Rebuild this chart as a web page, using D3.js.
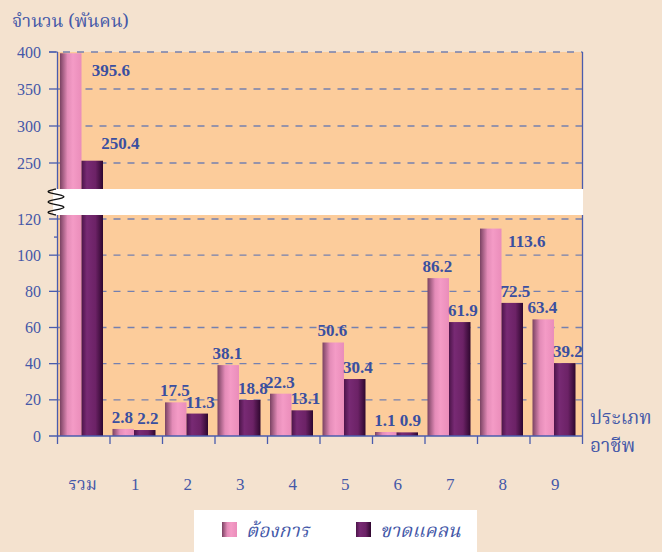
<!DOCTYPE html>
<html>
<head>
<meta charset="utf-8">
<script src="https://cdn.jsdelivr.net/npm/d3@7"></script>
<style>
  html, body { margin: 0; padding: 0; background: #f4e2cf; }
  svg { display: block; }
</style>
</head>
<body>
<div id="chart"></div>
<script>
// data
var categories = ["รวม", "1", "2", "3", "4", "5", "6", "7", "8", "9"];
var wanted   = [395.6, 2.8, 17.5, 38.1, 22.3, 50.6, 1.1, 86.2, 113.6, 63.4];
var shortage = [250.4, 2.2, 11.3, 18.8, 13.1, 30.4, 0.9, 61.9, 72.5, 39.2];
var seriesNames = ["ต้องการ", "ขาดแคลน"];
var lowTicks = [0, 20, 40, 60, 80, 100, 120];
var highTicks = [250, 300, 350, 400];

var width = 662, height = 552;
var blue = "#4458a8", labelBlue = "#3a4fa0", gridCol = "#7480b0";
var serif = "'Liberation Serif', 'Times New Roman', serif";
var thai = "'Noto Serif Thai', 'Noto Sans Thai', 'Loma', 'Garuda', 'DejaVu Sans', sans-serif";

var svg = d3.select("#chart").append("svg")
    .attr("width", width).attr("height", height);

var defs = svg.append("defs");
function grad(id, stops) {
    var g = defs.append("linearGradient").attr("id", id)
        .attr("x1", "0%").attr("x2", "100%").attr("y1", "0%").attr("y2", "0%");
    stops.forEach(function(s) {
        g.append("stop").attr("offset", s[0]).attr("stop-color", s[1]);
    });
}
grad("pinkGrad", [["0%", "#7a4262"], ["35%", "#e48cb8"], ["60%", "#f49bc6"], ["100%", "#ea8dba"]]);
grad("purpGrad", [["0%", "#4c1449"], ["25%", "#782a74"], ["65%", "#6c2266"], ["100%", "#2e072e"]]);

var plotL = 57.5, plotR = 582.5, plotT = 52, plotB = 436;
var breakTop = 189, breakBottom = 215;

var x = d3.scaleBand().domain(categories).range([plotL, plotR]).paddingInner(0).paddingOuter(0);
var yLow = d3.scaleLinear().domain([0, 120]).range([plotB, 219]);
var yHigh = d3.scaleLinear().domain([250, 400]).range([163, plotT]);
function yv(v) { return v > 121 ? yHigh(v) : yLow(v); }

// plot area
svg.append("rect").attr("x", plotL).attr("y", plotT)
    .attr("width", plotR - plotL).attr("height", plotB - plotT)
    .attr("fill", "#fccc9b");

// gridlines
var grid = svg.append("g");
lowTicks.slice(1).forEach(function(t) {
    grid.append("line").attr("x1", plotL).attr("x2", plotR)
        .attr("y1", yLow(t)).attr("y2", yLow(t));
});
highTicks.forEach(function(t) {
    grid.append("line").attr("x1", t == 400 ? 49 : plotL).attr("x2", plotR)
        .attr("y1", yHigh(t)).attr("y2", yHigh(t));
});
grid.selectAll("line").attr("stroke", gridCol).attr("stroke-width", 1.3)
    .attr("stroke-dasharray", "7,7");

// bars (small base so the tiny values stay visible, like the original)
var pinkOff = 2.5, barW = 21.5, base = 2;
var groups = svg.append("g").selectAll("g").data(categories).enter().append("g");
groups.append("rect")
    .attr("x", function(d) { return x(d) + pinkOff; })
    .attr("y", function(d, i) { return yv(wanted[i]) - base; })
    .attr("width", barW)
    .attr("height", function(d, i) { return plotB - yv(wanted[i]) + base; })
    .attr("fill", "url(#pinkGrad)");
groups.append("rect")
    .attr("x", function(d) { return x(d) + pinkOff + barW; })
    .attr("y", function(d, i) { return yv(shortage[i]) - base; })
    .attr("width", barW)
    .attr("height", function(d, i) { return plotB - yv(shortage[i]) + base; })
    .attr("fill", "url(#purpGrad)");

// axis break band
svg.append("rect").attr("x", 53).attr("y", breakTop)
    .attr("width", plotR + 0.5 - 53).attr("height", breakBottom - breakTop)
    .attr("fill", "#ffffff");
var squig = d3.range(0, 1.0001, 0.02).map(function(t) {
    return [56 + 8 * Math.sin(t * Math.PI * 5 + Math.PI), breakTop + t * (breakBottom - breakTop)];
});
svg.append("path").attr("d", d3.line().curve(d3.curveBasis)(squig))
    .attr("fill", "none").attr("stroke", "#111").attr("stroke-width", 1.3);

// axes lines
var axisG = svg.append("g").attr("stroke", "#4a5cae").attr("stroke-width", 1.3);
axisG.append("line").attr("x1", plotL).attr("x2", plotL).attr("y1", plotT).attr("y2", breakTop);
axisG.append("line").attr("x1", plotL).attr("x2", plotL).attr("y1", breakBottom).attr("y2", plotB);
axisG.append("line").attr("x1", plotR).attr("x2", plotR).attr("y1", plotT).attr("y2", breakTop);
axisG.append("line").attr("x1", plotR).attr("x2", plotR).attr("y1", breakBottom).attr("y2", plotB);
axisG.append("line").attr("x1", 49).attr("x2", plotR).attr("y1", plotB).attr("y2", plotB);
lowTicks.slice(1).forEach(function(t) {
    axisG.append("line").attr("x1", 49).attr("x2", plotL).attr("y1", yLow(t)).attr("y2", yLow(t));
});
highTicks.forEach(function(t) {
    axisG.append("line").attr("x1", 49).attr("x2", plotL).attr("y1", yHigh(t)).attr("y2", yHigh(t));
});
axisG.append("line").attr("x1", 54).attr("x2", plotL).attr("y1", yLow(110)).attr("y2", yLow(110));
categories.concat(["end"]).forEach(function(d, i) {
    var xx = i < categories.length ? x(d) : plotR;
    axisG.append("line").attr("x1", xx).attr("x2", xx).attr("y1", plotB).attr("y2", plotB + 8);
});

// y tick labels
var tl = svg.append("g").attr("font-family", serif).attr("font-size", 16)
    .attr("fill", blue).attr("text-anchor", "end");
lowTicks.forEach(function(t) {
    tl.append("text").attr("x", 41).attr("y", yLow(t) + 5.5).text(t);
});
highTicks.forEach(function(t) {
    tl.append("text").attr("x", 41).attr("y", yHigh(t) + 5.5).text(t);
});

// x labels
svg.append("g").selectAll("text").data(categories).enter().append("text")
    .attr("x", function(d) { return x(d) + x.bandwidth() / 2 - 1; })
    .attr("y", 490)
    .attr("text-anchor", "middle")
    .attr("font-family", function(d, i) { return i == 0 ? thai : serif; })
    .attr("font-size", 17)
    .attr("fill", blue)
    .text(function(d) { return d; });

// value labels
var nudgeWanted = {0: [41, 29], 8: [37, 24]};
var nudgeShort = {0: [25, -6]};
var vl = svg.append("g").attr("font-family", serif).attr("font-size", 17)
    .attr("font-weight", "bold").attr("fill", labelBlue).attr("text-anchor", "middle");
categories.forEach(function(d, i) {
    var n1 = nudgeWanted[i] || [0, 0];
    vl.append("text")
        .attr("x", x(d) + pinkOff + barW / 2 - 1 + n1[0])
        .attr("y", yv(wanted[i]) - 8 + n1[1])
        .text(wanted[i].toFixed(1));
    var n2 = nudgeShort[i] || [0, 0];
    vl.append("text")
        .attr("x", x(d) + pinkOff + barW * 1.5 + 3 + n2[0])
        .attr("y", yv(shortage[i]) - 8 + n2[1])
        .text(shortage[i].toFixed(1));
});

// axis titles
svg.append("text").attr("x", 12).attr("y", 27)
    .attr("font-family", thai).attr("font-size", 18).attr("fill", blue)
    .text("จำนวน (พันคน)");
svg.append("text").attr("x", 590).attr("y", 424)
    .attr("font-family", thai).attr("font-size", 19).attr("fill", blue)
    .text("ประเภท");
svg.append("text").attr("x", 590).attr("y", 452)
    .attr("font-family", thai).attr("font-size", 19).attr("fill", blue)
    .text("อาชีพ");

// legend
var lg = svg.append("g");
lg.append("rect").attr("x", 194).attr("y", 510).attr("width", 283).attr("height", 50).attr("fill", "#ffffff");
var legX = [222, 356];
seriesNames.forEach(function(name, i) {
    lg.append("rect").attr("x", legX[i]).attr("y", 522).attr("width", 15).attr("height", 15)
        .attr("fill", i == 0 ? "url(#pinkGrad)" : "url(#purpGrad)");
    lg.append("text").attr("x", legX[i] + 24).attr("y", 537)
        .attr("font-family", thai).attr("font-size", 19).attr("font-style", "italic")
        .attr("fill", blue).text(name);
});
</script>
</body>
</html>
